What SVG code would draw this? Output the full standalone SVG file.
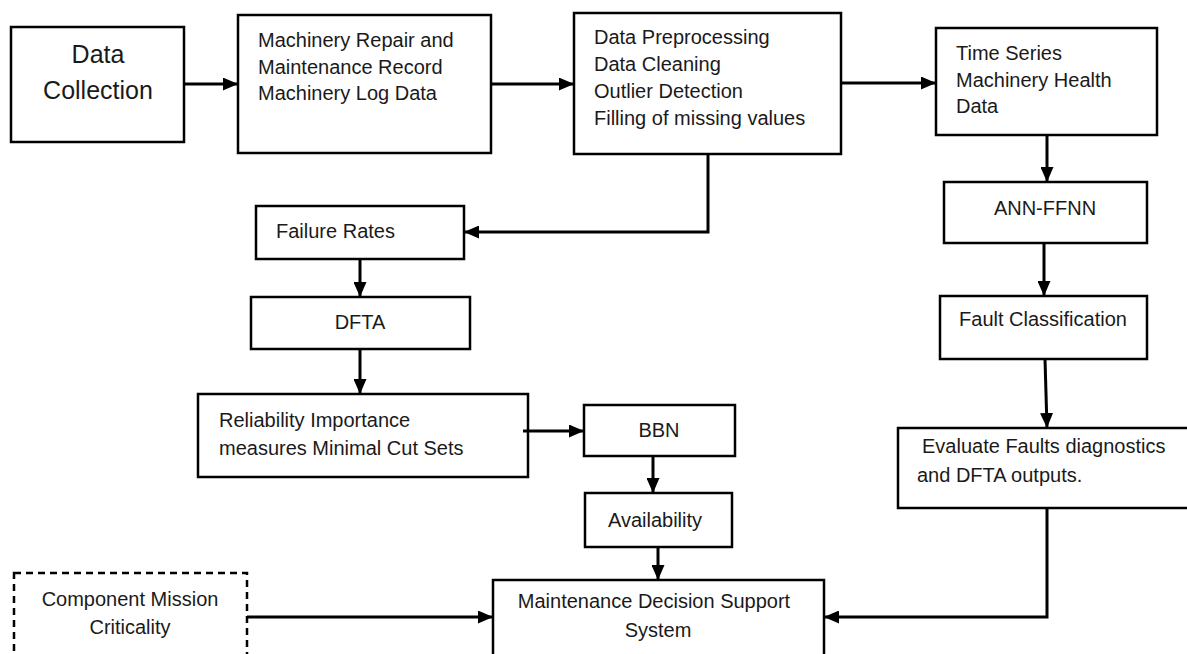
<svg xmlns="http://www.w3.org/2000/svg" width="1187" height="654" viewBox="0 0 1187 654">
  <defs>
    <marker id="ah" markerUnits="userSpaceOnUse" markerWidth="15" markerHeight="13" refX="15" refY="6.5" orient="auto">
      <path d="M0,0 L15,6.5 L0,13 z" fill="#000"/>
    </marker>
    <style>
      .box { fill: #fff; stroke: #000; stroke-width: 2.5; }
      .dash { fill: #fff; stroke: #000; stroke-width: 2.5; stroke-dasharray: 7 5; }
      .t { font-family: "Liberation Sans", Arial, sans-serif; font-size: 20px; fill: #1a1a1a; }
      .big { font-size: 25px; }
      .c { text-anchor: middle; }
      .conn path { fill: none; stroke: #000; stroke-width: 3; marker-end: url(#ah); }
      .conn path.plain { marker-end: none; }
    </style>
  </defs>
  <rect width="1187" height="654" fill="#fff"/>

  <g id="data-collection">
    <rect class="box" x="11" y="27" width="173" height="115"/>
    <text class="t big c" x="98" y="63">Data</text>
    <text class="t big c" x="98" y="99">Collection</text>
  </g>
  <g id="machinery-records">
    <rect class="box" x="238" y="15" width="253" height="138"/>
    <text class="t" x="258" y="47">Machinery Repair and</text>
    <text class="t" x="258" y="74">Maintenance Record</text>
    <text class="t" x="258" y="100">Machinery Log Data</text>
  </g>
  <g id="preprocessing">
    <rect class="box" x="574" y="13" width="267" height="141"/>
    <text class="t" x="594" y="44">Data Preprocessing</text>
    <text class="t" x="594" y="71">Data Cleaning</text>
    <text class="t" x="594" y="98">Outlier Detection</text>
    <text class="t" x="594" y="125">Filling of missing values</text>
  </g>
  <g id="time-series">
    <rect class="box" x="936" y="28" width="221" height="107"/>
    <text class="t" x="956" y="60">Time Series</text>
    <text class="t" x="956" y="87">Machinery Health</text>
    <text class="t" x="956" y="113">Data</text>
  </g>
  <g id="ann-ffnn">
    <rect class="box" x="944" y="182" width="203" height="61"/>
    <text class="t c" x="1045" y="215">ANN-FFNN</text>
  </g>
  <g id="fault-classification">
    <rect class="box" x="940" y="296" width="207" height="63"/>
    <text class="t c" x="1043" y="326">Fault Classification</text>
  </g>
  <g id="evaluate">
    <rect class="box" x="898" y="428" width="300" height="80"/>
    <text class="t" x="922" y="453">Evaluate Faults diagnostics</text>
    <text class="t" x="917" y="482">and DFTA outputs.</text>
  </g>
  <g id="failure-rates">
    <rect class="box" x="256" y="206" width="208" height="53"/>
    <text class="t" x="276" y="238">Failure Rates</text>
  </g>
  <g id="dfta">
    <rect class="box" x="251" y="297" width="219" height="52"/>
    <text class="t c" x="360" y="329">DFTA</text>
  </g>
  <g id="reliability">
    <rect class="box" x="198" y="394" width="330" height="83"/>
    <text class="t" x="219" y="427">Reliability Importance</text>
    <text class="t" x="219" y="455">measures Minimal Cut Sets</text>
  </g>
  <g id="bbn">
    <rect class="box" x="584" y="405" width="151" height="51"/>
    <text class="t c" x="659" y="437">BBN</text>
  </g>
  <g id="availability">
    <rect class="box" x="585" y="493" width="147" height="54"/>
    <text class="t c" x="655" y="527">Availability</text>
  </g>
  <g id="mdss">
    <rect class="box" x="493" y="580" width="331" height="90"/>
    <text class="t c" x="654" y="608">Maintenance Decision Support</text>
    <text class="t c" x="658" y="637">System</text>
  </g>
  <g id="mission-criticality">
    <rect class="dash" x="14" y="573" width="233" height="100"/>
    <text class="t c" x="130" y="606">Component Mission</text>
    <text class="t c" x="130" y="634">Criticality</text>
  </g>

  <g id="connectors" class="conn">
    <path d="M184,84 L238,84"/>
    <path d="M491,84 L574,84"/>
    <path d="M841,83 L936,83"/>
    <path d="M1047,135 L1047,182"/>
    <path d="M1044,243 L1044,296"/>
    <path d="M1045,359 L1047,428"/>
    <path d="M708,154 L708,232 L464,232"/>
    <path d="M360,259 L360,297"/>
    <path d="M360,349 L360,394"/>
    <path d="M523,431 L584,431"/>
    <path d="M653,456 L653,493"/>
    <path d="M658,547 L658,580"/>
    <path d="M1047,508 L1047,617 L824,617"/>
    <path d="M247,617 L493,617"/>
  </g>
</svg>
